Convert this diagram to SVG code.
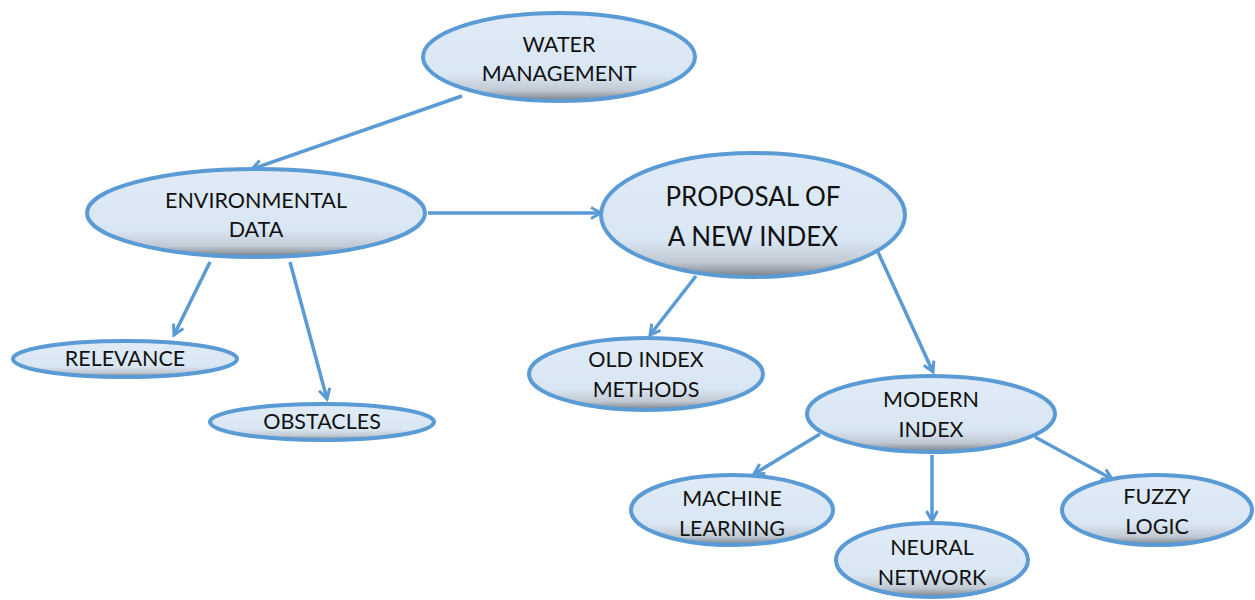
<svg xmlns="http://www.w3.org/2000/svg" width="1255" height="600" viewBox="0 0 1255 600">
<defs>
<linearGradient id="fill" x1="0" y1="0" x2="0" y2="1">
<stop offset="0" stop-color="#e0ebf7"/>
<stop offset="0.7" stop-color="#d9e6f3"/>
<stop offset="0.88" stop-color="#c0c9d3"/>
<stop offset="1" stop-color="#767d85"/>
</linearGradient>
<marker id="arr" markerWidth="14" markerHeight="14" refX="11" refY="7" orient="auto" markerUnits="userSpaceOnUse">
<path d="M1,1.5 L11,7 L1,12.5" fill="none" stroke="#5b9bd5" stroke-width="3" stroke-linejoin="miter"/>
</marker>
</defs>
<style>
.n ellipse{fill:url(#fill);stroke:#5b9bd5;stroke-width:4}
.n text{font-family:Lato,"Open Sans","Liberation Sans",sans-serif;font-size:21.5px;fill:#111111;text-anchor:middle}
.big text{font-size:26px}
#connectors line{stroke:#5b9bd5;stroke-width:3.5;marker-end:url(#arr)}
</style>
<rect width="1255" height="600" fill="#ffffff"/>
<g id="connectors">
<line x1="462" y1="96" x2="252" y2="169"/>
<line x1="428" y1="213" x2="601" y2="213"/>
<line x1="210" y1="262" x2="174" y2="335"/>
<line x1="290" y1="262" x2="327" y2="399"/>
<line x1="696" y1="276" x2="650" y2="335"/>
<line x1="878" y1="252" x2="933" y2="372"/>
<line x1="820" y1="434" x2="754" y2="474"/>
<line x1="932" y1="455" x2="932" y2="521"/>
<line x1="1035" y1="437" x2="1112" y2="479"/>
</g>
<g id="water" class="n"><ellipse cx="559" cy="57" rx="136" ry="44"/><text x="559" y="52">WATER</text><text x="559" y="81">MANAGEMENT</text></g>
<g id="env" class="n"><ellipse cx="256" cy="213" rx="169" ry="44"/><text x="256" y="208">ENVIRONMENTAL</text><text x="256" y="237">DATA</text></g>
<g id="proposal" class="n big"><ellipse cx="753" cy="215" rx="152" ry="62"/><text x="753" y="206">PROPOSAL OF</text><text x="753" y="246">A NEW INDEX</text></g>
<g id="relevance" class="n"><ellipse cx="125" cy="359" rx="112" ry="18"/><text x="125" y="366">RELEVANCE</text></g>
<g id="obstacles" class="n"><ellipse cx="322" cy="422" rx="112" ry="18"/><text x="322" y="429">OBSTACLES</text></g>
<g id="old" class="n"><ellipse cx="646" cy="374" rx="117" ry="36"/><text x="646" y="367">OLD INDEX</text><text x="646" y="397">METHODS</text></g>
<g id="modern" class="n"><ellipse cx="931" cy="414" rx="124" ry="38"/><text x="931" y="407">MODERN</text><text x="931" y="437">INDEX</text></g>
<g id="ml" class="n"><ellipse cx="732" cy="510" rx="101" ry="35"/><text x="732" y="506">MACHINE</text><text x="732" y="536">LEARNING</text></g>
<g id="nn" class="n"><ellipse cx="932" cy="560" rx="96" ry="37"/><text x="932" y="555">NEURAL</text><text x="932" y="585">NETWORK</text></g>
<g id="fuzzy" class="n"><ellipse cx="1157" cy="510" rx="95" ry="35"/><text x="1157" y="504">FUZZY</text><text x="1157" y="534">LOGIC</text></g>
</svg>
